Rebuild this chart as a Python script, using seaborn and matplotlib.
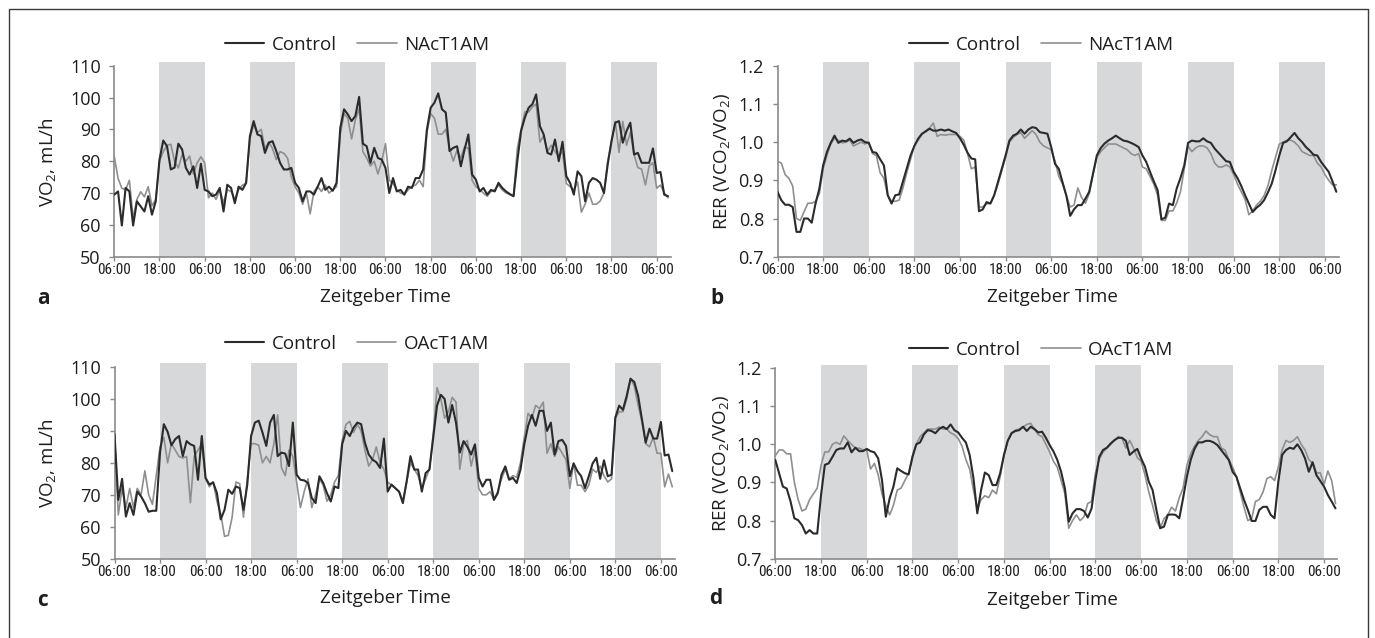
import numpy as np
import pandas as pd
import matplotlib
matplotlib.use("Agg")
import matplotlib.pyplot as plt
import seaborn as sns
from matplotlib.lines import Line2D
from matplotlib import font_manager

# ---------------- data (hourly, starting at 06:00 of day 1) ----------------
tick_labels = ["06:00", "18:00"] * 6 + ["06:00"]
tick_hours = list(range(0, 145, 12))
dark_phase_starts = [12, 36, 60, 84, 108, 132]
dark_phase_length = 12

vo2_control_a = [
    69.5, 70.5, 59.8, 71.6, 70.5, 59.8, 67.4, 65.8, 64.2, 69.0, 63.2, 67.4,
    80.5, 86.5, 84.7, 77.4, 78.0, 85.5, 83.7, 77.9, 75.8, 78.4, 71.6, 79.2,
    71.0, 70.5, 69.0, 69.5, 71.6, 64.2, 72.6, 71.6, 66.8, 72.0, 71.0, 73.2,
    87.9, 92.6, 88.4, 87.9, 82.6, 85.8, 86.3, 83.2, 79.5, 77.4, 77.4, 77.9,
    73.2, 71.6, 67.4, 70.5, 70.5, 69.5, 72.0, 74.7, 71.0, 72.0, 70.7, 73.2,
    90.5, 96.3, 94.7, 92.6, 94.2, 100.2, 85.5, 84.7, 79.5, 84.2, 81.0, 80.5,
    77.9, 70.0, 74.7, 70.5, 71.0, 69.5, 72.0, 71.6, 74.7, 74.7, 77.4, 90.0,
    96.8, 98.4, 101.3, 96.3, 95.3, 83.2, 84.2, 84.7, 78.4, 83.7, 88.4, 75.8,
    74.2, 70.5, 71.6, 69.5, 71.0, 70.5, 73.2, 71.6, 70.5, 69.7, 69.0, 80.0,
    89.5, 93.7, 96.8, 97.9, 101.0, 91.0, 88.4, 82.6, 82.1, 86.8, 80.0, 86.1,
    75.3, 73.2, 69.5, 76.8, 75.3, 67.4, 73.2, 74.7, 74.2, 73.2, 70.0, 79.0,
    86.3, 92.1, 92.6, 85.8, 89.5, 92.1, 82.1, 82.6, 79.5, 79.5, 79.5, 84.0,
    76.3, 76.6, 69.5, 69.0,
]
vo2_nact1am = [
    81.4, 74.6, 71.5, 71.0, 74.0, 62.0, 68.0, 70.4, 68.8, 72.0, 66.0, 68.0,
    80.0, 83.0, 85.0, 85.3, 80.0, 77.9, 82.0, 80.0, 81.6, 76.0, 79.5, 81.4,
    79.5, 68.5, 70.0, 68.0, 71.0, 67.0, 71.0, 70.5, 68.0, 71.0, 72.5, 73.0,
    87.0, 91.5, 89.0, 90.0, 84.0, 86.0, 84.0, 80.5, 83.0, 82.5, 81.0, 75.0,
    72.0, 70.0, 66.5, 70.0, 63.5, 70.5, 72.0, 70.5, 72.5, 70.0, 71.0, 72.0,
    88.5, 95.0, 93.5, 87.0, 93.0, 96.5, 83.0, 81.0, 78.5, 80.0, 76.0, 80.0,
    85.5, 74.0, 73.0, 71.0, 70.0, 69.5, 71.0, 72.0, 72.5, 74.0, 72.0, 89.0,
    95.0, 93.5, 88.5, 88.5, 90.0, 84.0, 80.0, 83.5, 81.0, 84.5, 84.0, 74.0,
    72.0, 71.0, 70.0, 69.0, 70.5, 71.0, 72.5, 71.0, 70.0, 69.5, 69.0, 84.0,
    90.0, 95.5, 95.5, 97.0, 98.0, 86.0, 88.0, 83.0, 85.0, 83.0, 81.5, 83.0,
    73.0, 72.0, 71.0, 73.5, 64.0, 66.5, 70.0, 66.5, 66.5, 67.5, 70.0, 80.0,
    86.0, 92.5, 82.8, 92.5, 85.0, 89.0, 82.0, 78.0, 77.5, 72.5, 78.5, 79.5,
    71.5, 72.5, 70.0, 68.5,
]

rer_control_b = [
    0.870, 0.848, 0.836, 0.836, 0.830, 0.765, 0.765, 0.800, 0.800, 0.789, 0.839, 0.878,
    0.939, 0.974, 0.998, 1.017, 0.998, 1.004, 1.002, 1.009, 0.998, 1.004, 1.007, 1.000,
    0.998, 0.974, 0.972, 0.955, 0.939, 0.861, 0.839, 0.861, 0.863, 0.897, 0.930, 0.965,
    0.990, 1.009, 1.022, 1.028, 1.035, 1.030, 1.030, 1.033, 1.030, 1.033, 1.028, 1.024,
    1.010, 0.993, 0.972, 0.957, 0.955, 0.819, 0.824, 0.843, 0.839, 0.861, 0.896, 0.930,
    0.965, 1.004, 1.017, 1.022, 1.033, 1.022, 1.033, 1.039, 1.037, 1.026, 1.024, 1.022,
    0.987, 0.943, 0.930, 0.894, 0.859, 0.807, 0.824, 0.835, 0.835, 0.852, 0.870, 0.917,
    0.965, 0.984, 0.996, 1.004, 1.010, 1.017, 1.010, 1.004, 1.002, 0.998, 0.993, 0.987,
    0.965, 0.948, 0.922, 0.897, 0.874, 0.798, 0.802, 0.839, 0.835, 0.878, 0.906, 0.939,
    0.998, 1.004, 1.002, 1.002, 1.010, 1.002, 0.998, 0.983, 0.972, 0.961, 0.950, 0.948,
    0.922, 0.906, 0.885, 0.861, 0.839, 0.817, 0.828, 0.836, 0.848, 0.868, 0.891, 0.926,
    0.965, 0.998, 1.002, 1.013, 1.024, 1.010, 1.000, 0.987, 0.978, 0.967, 0.965, 0.948,
    0.935, 0.922, 0.897, 0.870,
]
rer_nact1am = [
    0.950, 0.945, 0.915, 0.905, 0.885, 0.800, 0.795, 0.818, 0.840, 0.840, 0.845, 0.865,
    0.930, 0.965, 0.995, 1.010, 1.005, 0.998, 1.000, 1.005, 0.990, 0.995, 1.000, 0.995,
    1.000, 0.970, 0.965, 0.920, 0.905, 0.860, 0.845, 0.845, 0.848, 0.880, 0.920, 0.955,
    0.990, 1.005, 1.020, 1.030, 1.037, 1.050, 1.015, 1.020, 1.018, 1.020, 1.020, 1.020,
    1.015, 1.005, 0.970, 0.930, 0.935, 0.830, 0.830, 0.838, 0.840, 0.860, 0.890, 0.925,
    0.960, 1.000, 1.012, 1.020, 1.025, 1.010, 1.020, 1.030, 1.020, 1.000, 0.990, 0.985,
    0.980, 0.950, 0.910, 0.890, 0.860, 0.830, 0.835, 0.880, 0.855, 0.840, 0.865, 0.915,
    0.960, 0.975, 0.985, 0.995, 0.995, 0.995, 0.990, 0.985, 0.980, 0.970, 0.965, 0.970,
    0.935, 0.930, 0.910, 0.890, 0.860, 0.795, 0.795, 0.820, 0.820, 0.840, 0.870, 0.930,
    0.990, 0.975, 0.985, 0.990, 0.990, 0.985, 0.970, 0.945, 0.935, 0.935, 0.940, 0.935,
    0.915, 0.890, 0.870, 0.850, 0.810, 0.820, 0.835, 0.845, 0.860, 0.885, 0.925, 0.960,
    0.995, 1.000, 1.005, 1.005, 1.000, 0.990, 0.975, 0.970, 0.965, 0.965, 0.945, 0.935,
    0.915, 0.900, 0.888, 0.888,
]

vo2_control_c = [
    89.0, 68.4, 75.0, 63.2, 67.4, 63.7, 71.0, 69.5, 67.4, 64.7, 65.0, 65.0,
    83.2, 92.1, 89.7, 85.5, 87.4, 88.4, 82.1, 86.8, 85.8, 85.3, 74.7, 88.4,
    75.3, 73.2, 73.9, 70.5, 62.3, 65.3, 71.6, 70.3, 72.6, 72.1, 65.3, 73.2,
    88.4, 92.6, 93.2, 89.5, 85.3, 92.6, 95.0, 82.1, 83.2, 82.9, 79.0, 92.6,
    76.3, 74.7, 74.5, 73.7, 69.0, 67.4, 75.8, 73.7, 70.5, 67.9, 72.6, 72.1,
    85.8, 90.0, 88.4, 91.0, 92.6, 92.1, 86.3, 82.6, 81.0, 80.2, 78.4, 87.6,
    71.0, 73.2, 72.1, 71.0, 67.4, 74.2, 82.1, 77.9, 77.9, 71.0, 76.8, 77.9,
    87.9, 97.9, 101.3, 100.0, 92.6, 98.1, 92.6, 83.2, 86.8, 85.0, 82.6, 85.8,
    75.3, 72.6, 74.7, 74.7, 68.4, 70.5, 76.3, 78.9, 74.7, 75.3, 73.7, 77.9,
    85.8, 91.6, 95.0, 91.6, 96.3, 96.3, 90.0, 92.6, 82.6, 86.8, 87.2, 85.3,
    75.8, 79.8, 77.4, 75.8, 72.1, 75.8, 79.8, 81.6, 75.0, 80.8, 75.8, 76.3,
    94.2, 97.9, 96.6, 101.0, 106.3, 105.3, 101.0, 93.7, 86.3, 90.7, 87.6, 87.6,
    92.8, 82.3, 82.6, 77.4,
]
vo2_oact1am = [
    89.0, 63.7, 72.0, 66.0, 72.0, 66.0, 72.0, 70.0, 77.5, 70.0, 67.0, 76.0,
    85.0, 88.0, 80.0, 86.0, 84.0, 82.0, 81.5, 82.0, 67.5, 82.0, 84.0, 86.0,
    75.0, 72.5, 74.0, 68.0, 64.0, 57.0, 57.3, 63.0, 74.0, 73.5, 63.0, 75.0,
    86.0, 86.0, 85.5, 80.0, 82.0, 80.0, 86.0, 95.0, 78.5, 76.0, 84.0, 82.0,
    74.0, 66.0, 71.0, 75.0, 66.0, 70.0, 75.0, 73.0, 68.0, 70.0, 74.0, 76.0,
    87.0, 92.0, 93.0, 89.5, 92.0, 90.0, 84.0, 79.0, 81.0, 85.0, 80.0, 78.0,
    74.0, 73.0, 72.0, 71.0, 68.0, 74.0, 80.0, 78.0, 76.0, 72.0, 75.0, 78.0,
    89.0, 103.5, 100.0, 94.0, 96.0, 100.5, 99.0, 78.0, 86.0, 87.0, 79.0, 84.0,
    72.0, 70.0, 70.0, 71.0, 68.5, 71.0, 75.0, 78.0, 75.0, 76.0, 75.5, 80.0,
    88.0, 95.5, 94.0, 98.0, 97.0, 99.0, 83.0, 86.0, 82.0, 85.0, 83.0, 81.0,
    72.0, 80.0, 73.0, 73.0, 71.0, 73.0, 78.0, 77.0, 79.0, 76.0, 74.0, 75.0,
    94.0, 96.0, 96.0, 100.0, 106.5, 104.0, 98.0, 93.0, 86.0, 85.0, 88.0, 83.0,
    83.0, 72.5, 76.5, 72.5,
]

rer_control_d = [
    0.959, 0.924, 0.889, 0.884, 0.850, 0.806, 0.801, 0.788, 0.766, 0.775, 0.766, 0.766,
    0.867, 0.946, 0.950, 0.967, 0.985, 0.989, 0.989, 1.005, 0.979, 0.991, 0.982, 0.982,
    0.988, 0.982, 0.979, 0.963, 0.906, 0.810, 0.858, 0.889, 0.937, 0.930, 0.924, 0.921,
    0.967, 1.000, 1.005, 1.026, 1.037, 1.035, 1.029, 1.040, 1.046, 1.040, 1.052, 1.037,
    1.031, 1.017, 1.005, 0.972, 0.911, 0.819, 0.880, 0.926, 0.919, 0.893, 0.893, 0.924,
    0.972, 1.009, 1.029, 1.035, 1.037, 1.046, 1.035, 1.046, 1.040, 1.031, 1.033, 1.017,
    0.998, 0.981, 0.959, 0.928, 0.884, 0.797, 0.819, 0.830, 0.830, 0.825, 0.808, 0.832,
    0.906, 0.967, 0.985, 0.991, 1.002, 1.011, 1.017, 1.017, 1.009, 0.972, 0.981, 0.988,
    0.963, 0.941, 0.902, 0.880, 0.828, 0.780, 0.784, 0.815, 0.816, 0.815, 0.806, 0.858,
    0.915, 0.959, 0.988, 1.005, 1.005, 1.009, 1.009, 1.005, 0.998, 0.985, 0.972, 0.959,
    0.928, 0.915, 0.884, 0.854, 0.828, 0.799, 0.799, 0.828, 0.836, 0.836, 0.815, 0.806,
    0.902, 0.972, 0.985, 0.991, 0.988, 1.000, 0.985, 0.963, 0.928, 0.953, 0.919, 0.904,
    0.889, 0.867, 0.850, 0.832,
]
rer_oact1am = [
    0.970, 0.985, 0.985, 0.975, 0.975, 0.900, 0.855, 0.825, 0.830, 0.855, 0.870, 0.885,
    0.945, 0.980, 0.980, 1.000, 1.005, 1.000, 1.022, 1.010, 1.000, 0.990, 0.990, 0.985,
    0.985, 0.935, 0.950, 0.920, 0.870, 0.840, 0.815, 0.840, 0.880, 0.885, 0.905, 0.925,
    0.970, 1.000, 1.020, 1.030, 1.040, 1.040, 1.040, 1.045, 1.040, 1.040, 1.030, 1.025,
    1.015, 0.995, 0.960, 0.935, 0.880, 0.830, 0.855, 0.865, 0.860, 0.880, 0.870, 0.915,
    0.970, 1.010, 1.030, 1.037, 1.040, 1.045, 1.052, 1.055, 1.040, 1.025, 1.020, 1.000,
    0.980, 0.955, 0.940, 0.905, 0.870, 0.780, 0.800, 0.815, 0.800, 0.810, 0.845, 0.850,
    0.925, 0.960, 0.980, 0.990, 1.000, 1.010, 1.020, 1.015, 0.990, 1.010, 0.990, 0.965,
    0.955, 0.920, 0.875, 0.840, 0.800, 0.780, 0.805, 0.815, 0.835, 0.825, 0.860, 0.885,
    0.945, 0.975, 0.995, 1.010, 1.020, 1.035, 1.025, 1.020, 1.020, 0.990, 0.985, 0.960,
    0.940, 0.915, 0.875, 0.835, 0.800, 0.805, 0.850, 0.855, 0.875, 0.910, 0.915, 0.905,
    0.940, 0.985, 1.010, 1.005, 1.010, 1.020, 1.000, 0.985, 0.960, 0.950, 0.925, 0.925,
    0.895, 0.930, 0.905, 0.845,
]

# ---------------- style ----------------
sns.set_theme(style="white")
plt.rcParams['font.family'] = ['Open Sans', 'DejaVu Sans']
plt.rcParams['mathtext.fontset'] = 'custom'
plt.rcParams['mathtext.rm'] = 'Open Sans'
plt.rcParams['mathtext.it'] = 'Open Sans:italic'
plt.rcParams['mathtext.bf'] = 'Open Sans:bold'

TEXT = '#1e1e1e'
AXIS = '#8a8a8a'
BAND = '#d7d8da'
C_CTRL = '#2b2b2b'
C_TRT = '#8f8f8f'

# x tick labels in the reference use a condensed face; use one if available
installed = {f.name for f in font_manager.fontManager.ttflist}
if 'Liberation Sans Narrow' in installed:
    XT_FAMILY, XT_SIZE = ['Liberation Sans Narrow', 'DejaVu Sans'], 11.5
elif 'Roboto Condensed' in installed:
    XT_FAMILY, XT_SIZE = ['Roboto Condensed', 'DejaVu Sans'], 11.0
else:
    XT_FAMILY, XT_SIZE = ['Open Sans', 'DejaVu Sans'], 9.6

W, H = 1375, 638
fig = plt.figure(figsize=(W / 100, H / 100), dpi=100)


def fx(px):
    return px / W


def fy(py):
    return 1 - py / H


panels = [
    dict(rect=(114.3, 671.0, 62.2, 256.7), ylim=(50, 111.1), yt=np.arange(50, 111, 10),
         fmt='{:.0f}', xmax=147.8, ctrl=vo2_control_a, trt=vo2_nact1am, trt_name='NAcT1AM',
         ylabel='VO$_2$, mL/h', ylab_xy=(47, 162), leg_xy=(357, 45), xl_xy=(385, 297),
         letter='a', let_xy=(43, 298)),
    dict(rect=(777.5, 1338.6, 61.7, 256.7), ylim=(0.7, 1.2105), yt=np.round(np.arange(0.7, 1.21, 0.1), 1),
         fmt='{:.1f}', xmax=147.6, ctrl=rer_control_b, trt=rer_nact1am, trt_name='NAcT1AM',
         ylabel='RER (VCO$_2$/VO$_2$)', ylab_xy=(722, 161), leg_xy=(1041, 45), xl_xy=(1052, 297),
         letter='b', let_xy=(717, 298)),
    dict(rect=(114.5, 675.3, 363.0, 558.7), ylim=(50, 111.25), yt=np.arange(50, 111, 10),
         fmt='{:.0f}', xmax=147.8, ctrl=vo2_control_c, trt=vo2_oact1am, trt_name='OAcT1AM',
         ylabel='VO$_2$, mL/h', ylab_xy=(47, 463), leg_xy=(357, 344), xl_xy=(385, 598),
         letter='c', let_xy=(43, 600)),
    dict(rect=(775.3, 1337.4, 364.7, 558.7), ylim=(0.7, 1.2087), yt=np.round(np.arange(0.7, 1.21, 0.1), 1),
         fmt='{:.1f}', xmax=147.5, ctrl=rer_control_d, trt=rer_oact1am, trt_name='OAcT1AM',
         ylabel='RER (VCO$_2$/VO$_2$)', ylab_xy=(721, 463), leg_xy=(1041, 349.7), xl_xy=(1052, 599.7),
         letter='d', let_xy=(716, 598)),
]

for p in panels:
    l, r, t, b = p['rect']
    ax = fig.add_axes([fx(l), fy(b), (r - l) / W, (b - t) / H])
    for s in dark_phase_starts:
        ax.axvspan(s, s + dark_phase_length, color=BAND, lw=0, zorder=0)

    df = pd.DataFrame({
        'hour': np.concatenate([np.arange(len(p['trt'])), np.arange(len(p['ctrl']))]),
        'value': np.concatenate([p['trt'], p['ctrl']]),
        'group': [p['trt_name']] * len(p['trt']) + ['Control'] * len(p['ctrl']),
    })
    sns.lineplot(data=df, x='hour', y='value', hue='group',
                 hue_order=[p['trt_name'], 'Control'],
                 palette={p['trt_name']: C_TRT, 'Control': C_CTRL},
                 estimator=None, sort=False, legend=False, ax=ax, zorder=3)
    for ln in ax.lines:
        if matplotlib.colors.to_hex(ln.get_color()) == C_CTRL:
            ln.set_linewidth(1.5)
            ln.set_zorder(4)
        else:
            ln.set_linewidth(1.2)

    ax.set_xlim(0, p['xmax'])
    ax.set_ylim(*p['ylim'])
    ax.set_xlabel('')
    ax.set_ylabel('')
    for side in ['top', 'right']:
        ax.spines[side].set_visible(False)
    for side in ['left', 'bottom']:
        ax.spines[side].set_color(AXIS)
        ax.spines[side].set_linewidth(1.2)
    ax.spines['left'].set_bounds(p['yt'][0], p['yt'][-1])

    ax.set_yticks(p['yt'], [p['fmt'].format(v) for v in p['yt']])
    ax.set_xticks(tick_hours, tick_labels)
    for lbl in ax.get_xticklabels():
        lbl.set_fontfamily(XT_FAMILY)
        lbl.set_fontsize(XT_SIZE)
    ax.tick_params(axis='y', left=True, length=3.8, width=1.0, color=AXIS, pad=6.0,
                   labelsize=13, labelcolor=TEXT)
    ax.tick_params(axis='x', bottom=True, length=3.0, width=1.0, color=AXIS, pad=1.5,
                   labelcolor=TEXT)
    ax.grid(False)
    ax.set_facecolor('none')

    handles = [Line2D([], [], color=C_CTRL, lw=1.5), Line2D([], [], color=C_TRT, lw=1.2)]
    fig.legend(handles, ['Control', p['trt_name']], loc='center',
               bbox_to_anchor=(fx(p['leg_xy'][0]), fy(p['leg_xy'][1])), ncol=2,
               frameon=False, fontsize=13.5, handlelength=2.1, handletextpad=0.4,
               columnspacing=1.1, borderpad=0.0, labelcolor=TEXT)

    fig.text(fx(p['xl_xy'][0]), fy(p['xl_xy'][1]), 'Zeitgeber Time', ha='center', va='center',
             fontsize=13.5, color=TEXT)
    fig.text(fx(p['ylab_xy'][0]), fy(p['ylab_xy'][1]), p['ylabel'], rotation=90, ha='center',
             va='center', fontsize=13.5, color=TEXT)
    fig.text(fx(p['let_xy'][0]), fy(p['let_xy'][1]), p['letter'], ha='center', va='center',
             fontsize=15, fontweight='bold', color=TEXT)

# outer frame (open at the bottom, as in the reference crop)
fig.add_artist(Line2D([fx(9), fx(9), fx(1368), fx(1368)], [0, fy(9), fy(9), 0],
                      transform=fig.transFigure, color='#3a3a3a', lw=1.0))

fig.savefig('out.png', dpi=100, facecolor='white')
